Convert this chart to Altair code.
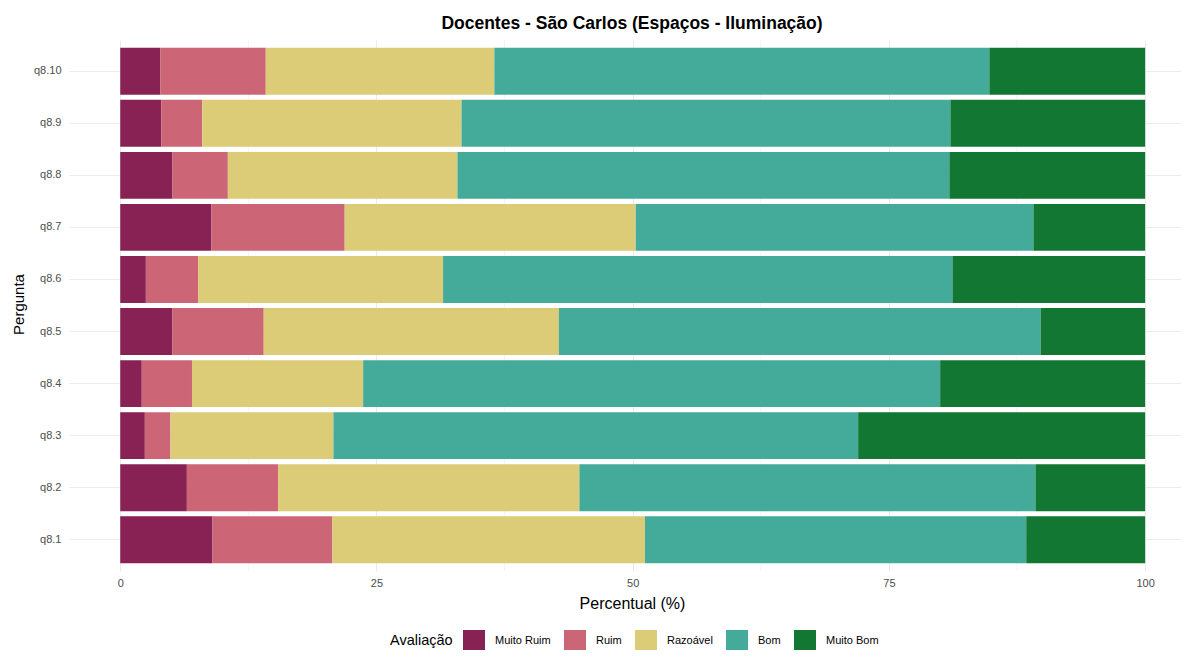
import altair as alt
import pandas as pd

# Questions, top to bottom
perguntas = ["q8.10", "q8.9", "q8.8", "q8.7", "q8.6", "q8.5", "q8.4", "q8.3", "q8.2", "q8.1"]
categorias = ["Muito Ruim", "Ruim", "Razoável", "Bom", "Muito Bom"]
cores = ["#882255", "#CC6677", "#DDCC77", "#44AA99", "#117733"]

# Percentages per category, same order as perguntas
muito_ruim = [3.9, 4.0, 5.1, 8.9, 2.5, 5.1, 2.1, 2.4, 6.5, 9.0]
ruim       = [10.3, 4.0, 5.4, 13.0, 5.1, 8.9, 4.9, 2.5, 8.9, 11.7]
razoavel   = [22.3, 25.3, 22.4, 28.4, 23.9, 28.8, 16.7, 15.9, 29.4, 30.5]
bom        = [48.3, 47.7, 48.0, 38.8, 49.7, 47.0, 56.3, 51.2, 44.5, 37.2]
muito_bom  = [15.2, 19.0, 19.1, 10.9, 18.8, 10.2, 20.0, 28.0, 10.7, 11.6]

minor_grid = [12.5, 37.5, 62.5, 87.5]
major_ticks = [0, 25, 50, 75, 100]

series = [muito_ruim, ruim, razoavel, bom, muito_bom]
rows = []
for ci, (cat, vals) in enumerate(zip(categorias, series)):
    for q, v in zip(perguntas, vals):
        rows.append({"Pergunta": q, "Avaliação": cat, "valor": v, "ordem": ci})
df = pd.DataFrame(rows)
grid_df = pd.DataFrame({"v": minor_grid})

FONT = "Liberation Sans"
xscale = alt.Scale(domain=[-5, 103.5], nice=False, zero=False)

minor = alt.Chart(grid_df).mark_rule(color="#EBEBEB", strokeWidth=0.6).encode(
    x=alt.X("v:Q", scale=xscale)
)

bars = alt.Chart(df).mark_bar().encode(
    x=alt.X(
        "valor:Q",
        stack="zero",
        scale=xscale,
        axis=alt.Axis(
            values=major_ticks,
            title="Percentual (%)",
            titleX=563,
            titleY=32,
            titleBaseline="middle",
            titleAlign="center",
            titleFontSize=16,
            labelPadding=6,
            format="d",
        ),
    ),
    y=alt.Y(
        "Pergunta:N",
        sort=perguntas,
        scale=alt.Scale(paddingInner=0.1, paddingOuter=0.15),
        axis=alt.Axis(
            title="Pergunta",
            titleX=-51,
            titleY=264,
            titleAngle=-90,
            titleAlign="center",
            titleBaseline="middle",
            titleFontSize=15,
            labelPadding=8,
        ),
    ),
    color=alt.Color(
        "Avaliação:N",
        scale=alt.Scale(domain=categorias, range=cores),
        legend=alt.Legend(
            title="Avaliação",
            orient="none",
            direction="horizontal",
            legendX=321,
            legendY=590,
            titleOrient="left",
            titlePadding=10,
            symbolType="square",
            symbolSize=484,
            symbolStrokeWidth=0,
            symbolOpacity=1,
            labelOffset=10,
            columnPadding=13,
            labelFontSize=11,
            titleFontSize=14.5,
            titleFontWeight="normal",
            titleColor="#000000",
            labelColor="#000000",
            titleBaseline="middle",
            padding=0,
        ),
    ),
    order=alt.Order("ordem:Q"),
)

chart = (
    alt.layer(minor, bars)
    .properties(
        width=1112,
        height=531,
        autosize=alt.AutoSizeParams(type="none"),
        padding={"left": 61, "top": 32, "right": 0, "bottom": 79},
        title=alt.TitleParams(
            "Docentes - São Carlos (Espaços - Iluminação)",
            anchor="middle",
            dx=7,
            offset=7,
            fontSize=17.5,
            fontWeight="bold",
            font=FONT,
            color="#000000",
        ),
    )
    .configure_view(stroke=None)
    .configure_axis(
        domain=False,
        ticks=False,
        grid=True,
        gridColor="#EBEBEB",
        gridWidth=1.1,
        labelFont=FONT,
        titleFont=FONT,
        labelFontSize=11,
        labelColor="#4D4D4D",
        titleFontWeight="normal",
        titleColor="#000000",
    )
    .configure_legend(labelFont=FONT, titleFont=FONT)
)

chart.save("out.html", embed_options={"renderer": "svg", "actions": False})
